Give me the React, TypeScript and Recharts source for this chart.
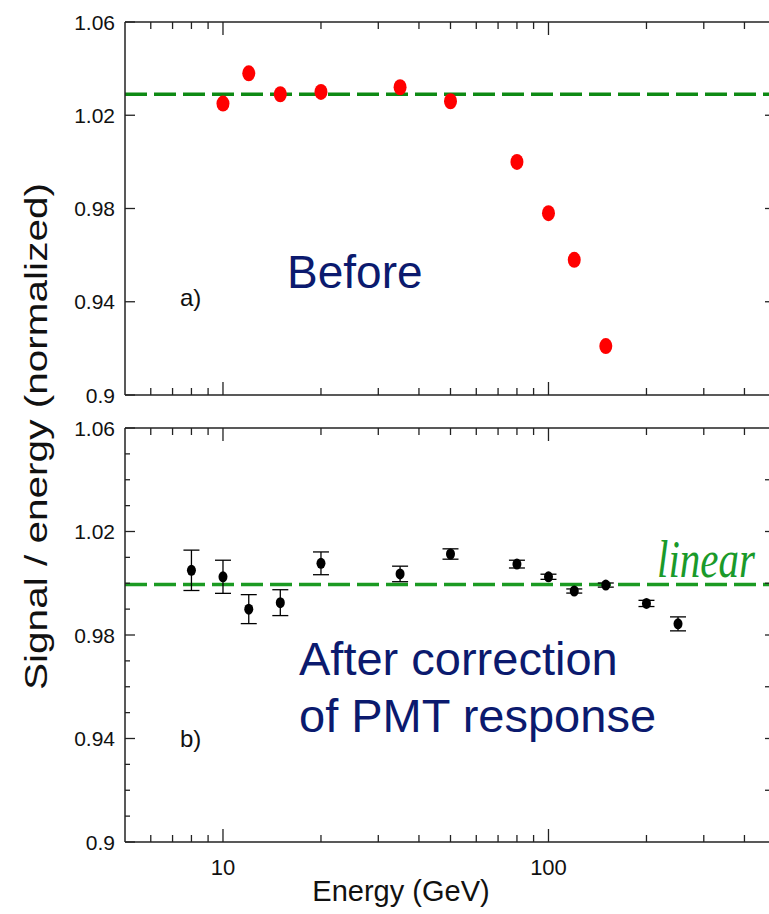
import { ScatterChart, Scatter, XAxis, YAxis, ReferenceLine, ErrorBar } from "recharts";

// panel a: raw response
const energyA = [10, 12, 15, 20, 35, 50, 80, 100, 120, 150];
const ratioA = [1.025, 1.038, 1.029, 1.030, 1.032, 1.026, 1.000, 0.978, 0.958, 0.921];
const levelA = 1.029;

// panel b: corrected response with errors
const energyB = [8, 10, 12, 15, 20, 35, 50, 80, 100, 120, 150, 200, 250];
const ratioB = [1.005, 1.0025, 0.990, 0.9925, 1.0077, 1.0036, 1.0113, 1.0074, 1.0025, 0.997, 0.9993, 0.9922, 0.9843];
const errB = [0.0078, 0.0064, 0.0056, 0.005, 0.0044, 0.003, 0.002, 0.0015, 0.001, 0.0008, 0.0008, 0.0012, 0.0027];
const levelB = 0.9995;

const xTicks = [6, 7, 8, 9, 10, 20, 30, 40, 50, 60, 70, 80, 90, 100, 200, 300, 400];
const xMajor = [10, 100];
const yMajor = [0.9, 0.94, 0.98, 1.02, 1.06];
const yMinorB = [0.9, 0.91, 0.92, 0.93, 0.94, 0.95, 0.96, 0.97, 0.98, 0.99, 1.0, 1.01, 1.02, 1.03, 1.04, 1.05, 1.06];
const yRightA = [0.94, 0.98, 1.02];
const yRightB = [0.92, 0.94, 0.96, 0.98, 1.0, 1.02, 1.04];

const pointsA = energyA.map((x, i) => ({ x, y: ratioA[i] }));
const pointsB = energyB.map((x, i) => ({ x, y: ratioB[i], err: errB[i] }));

const FONT = "'Liberation Sans', Arial, Helvetica, sans-serif";
const NAVY = "#0b1a6e";
const AXIS = "#222";

const isMajor = (v: number, list: number[]) => list.some((m) => Math.abs(m - v) < 1e-6);

const XTick = ({ x, y, payload, side, showLabel }: any) => {
  const major = isMajor(payload.value, xMajor);
  const len = major ? 13 : 7;
  const dir = side === "top" ? 1 : -1;
  return (
    <g>
      <line x1={x} x2={x} y1={y} y2={y + dir * len} stroke={AXIS} strokeWidth={1.3} />
      {showLabel && major && (
        <text x={x} y={y + 33} textAnchor="middle" fontSize={22} fontFamily={FONT} fill="#111">
          {payload.value}
        </text>
      )}
    </g>
  );
};

const YTick = ({ x, y, payload, side }: any) => {
  const major = isMajor(payload.value, yMajor);
  if (side === "right") {
    return <line x1={x} x2={x - 11} y1={y} y2={y} stroke={AXIS} strokeWidth={1.3} />;
  }
  return (
    <g>
      <line x1={x} x2={x + (major ? 10 : 5)} y1={y} y2={y} stroke={AXIS} strokeWidth={1.3} />
      {major && (
        <text x={x - 10} y={y + 7.5} textAnchor="end" fontSize={21} fontFamily={FONT} fill="#111">
          {String(payload.value)}
        </text>
      )}
    </g>
  );
};

const RedDot = ({ cx, cy }: any) => <ellipse cx={cx} cy={cy} rx={6.5} ry={8} fill="#ff0000" />;
const BlackDot = ({ cx, cy }: any) => <ellipse cx={cx} cy={cy} rx={4.5} ry={5.5} fill="#000" />;

const LinearLabel = ({ viewBox }: any) => {
  const x = viewBox.x + viewBox.width - 21;
  const y = viewBox.y - 8;
  return (
    <text
      x={x}
      y={y}
      textAnchor="end"
      fontSize={41}
      fontStyle="italic"
      fontFamily="'Liberation Serif', 'Times New Roman', serif"
      fill="#1a9a2a"
      transform={`translate(0 ${y}) scale(1 1.3) translate(0 ${-y})`}
    >
      linear
    </text>
  );
};

const axisLine = { stroke: AXIS, strokeWidth: 1.5 };

function Panel({ height, bottomHeight, yTicks, rightTicks, level, showLabels, children, lineColor, label }: any) {
  return (
    <ScatterChart width={800} height={height} margin={{ top: 0, right: 0, bottom: 0, left: 0 }}>
      <XAxis
        xAxisId="top"
        orientation="top"
        type="number"
        dataKey="x"
        scale="log"
        domain={[5, 500]}
        allowDataOverflow
        ticks={xTicks}
        interval={0}
        height={22}
        tickSize={0}
        tickMargin={0}
        tickLine={false}
        axisLine={axisLine}
        tick={(p: any) => <XTick {...p} side="top" />}
      />
      <XAxis
        xAxisId="bottom"
        orientation="bottom"
        type="number"
        dataKey="x"
        scale="log"
        domain={[5, 500]}
        allowDataOverflow
        ticks={xTicks}
        interval={0}
        height={bottomHeight}
        tickSize={0}
        tickMargin={0}
        tickLine={false}
        axisLine={axisLine}
        tick={(p: any) => <XTick {...p} side="bottom" showLabel={showLabels} />}
      />
      <YAxis
        yAxisId="left"
        type="number"
        dataKey="y"
        domain={[0.9, 1.06]}
        allowDataOverflow
        ticks={yTicks}
        interval={0}
        width={125}
        tickSize={0}
        tickMargin={0}
        tickLine={false}
        axisLine={axisLine}
        tick={(p: any) => <YTick {...p} side="left" />}
      />
      <YAxis
        yAxisId="right"
        orientation="right"
        type="number"
        dataKey="y"
        domain={[0.9, 1.06]}
        allowDataOverflow
        ticks={rightTicks}
        interval={0}
        width={24}
        tickSize={0}
        tickMargin={0}
        tickLine={false}
        axisLine={axisLine}
        tick={(p: any) => <YTick {...p} side="right" />}
      />
      <ReferenceLine
        xAxisId="bottom"
        yAxisId="left"
        y={level}
        stroke={lineColor}
        strokeWidth={3.5}
        strokeDasharray="22 7"
        label={label}
        ifOverflow="extendDomain"
      />
      {children}
    </ScatterChart>
  );
}

export default function App() {
  return (
    <div style={{ position: "fixed", left: 0, top: 0, width: 769, height: 914, overflow: "hidden", background: "#fff" }}>
      <div style={{ position: "absolute", left: 0, top: 406 }}>
        <Panel
          height={508}
          bottomHeight={72}
          yTicks={yMinorB}
          rightTicks={yRightB}
          level={levelB}
          showLabels
          lineColor="#1b9a22"
          label={(p: any) => <LinearLabel {...p} />}
        >
          <Scatter xAxisId="bottom" yAxisId="left" data={pointsB} shape={BlackDot} isAnimationActive={false}>
            <ErrorBar dataKey="err" direction="y" width={8} stroke="#000" strokeWidth={1.3} />
          </Scatter>
        </Panel>
      </div>
      <div style={{ position: "absolute", left: 0, top: 0 }}>
        <Panel
          height={412}
          bottomHeight={17}
          yTicks={yMajor}
          rightTicks={yRightA}
          level={levelA}
          lineColor="#0e8a14"
        >
          <Scatter xAxisId="bottom" yAxisId="left" data={pointsA} shape={RedDot} isAnimationActive={false} />
        </Panel>
      </div>
      <svg width={769} height={914} style={{ position: "absolute", left: 0, top: 0, pointerEvents: "none" }}>
        <text
          transform="translate(47 436.5) rotate(-90)"
          textAnchor="middle"
          fontSize={31}
          fontFamily={FONT}
          textLength={507}
          lengthAdjust="spacingAndGlyphs"
          fill="#111"
        >
          Signal / energy (normalized)
        </text>
        <text x={401} y={901} textAnchor="middle" fontSize={29} fontFamily={FONT} fill="#111">
          Energy (GeV)
        </text>
        <text x={180} y={306} fontSize={24} fontFamily={FONT} fill="#111">a)</text>
        <text x={180} y={747} fontSize={24} fontFamily={FONT} fill="#111">b)</text>
        <text x={287} y={288} fontSize={46} fontFamily={FONT} fill={NAVY}>Before</text>
        <text x={299} y={675} fontSize={47} fontFamily={FONT} fill={NAVY}>After correction</text>
        <text x={299} y={732} fontSize={47} fontFamily={FONT} fill={NAVY}>of PMT response</text>
      </svg>
    </div>
  );
}
